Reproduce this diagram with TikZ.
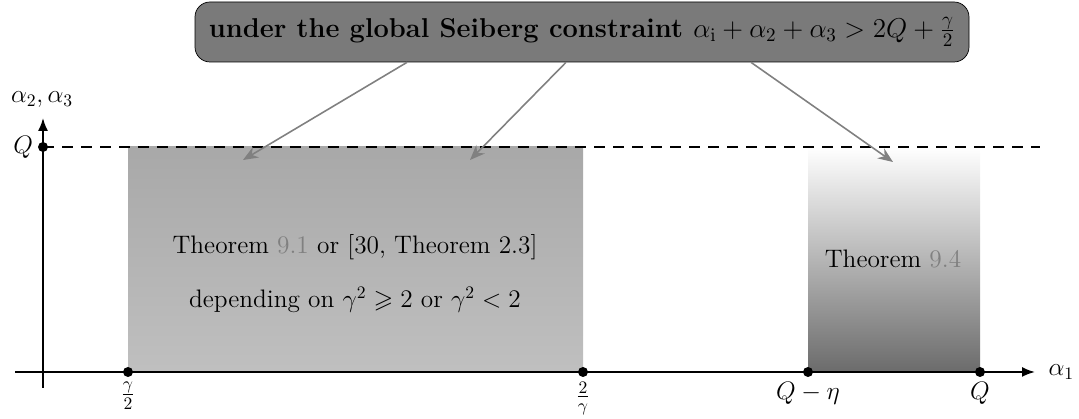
\RequirePackage{fix-cm}
\documentclass[tikz,border=0pt]{standalone}
\usepackage{amssymb}
\usetikzlibrary{arrows.meta,positioning,calc}
\tikzset{
    axisline/.style={line width=1pt, -{Latex[length=2.6mm, width=2mm]}},
    axisdot/.style={circle, fill=black, inner sep=0pt, minimum size=2mm},
    ticklabel/.style={font=\Large, inner sep=1pt},
    thmtext/.style={font=\Large, align=center},
    headbox/.style={draw, rounded corners=3mm, fill=black!52,
        font=\fontsize{15.5}{18}\selectfont\bfseries,
        minimum width=15.48cm, minimum height=1.2cm},
    headarrow/.style={-{Stealth[length=3mm, width=2.4mm]}, draw=black!50, line width=0.9pt}
}
\newcommand{\reflink}[1]{\textcolor{black!50}{#1}}

\begin{document}
\begin{tikzpicture}
\useasboundingbox (0,0) rectangle (21.58,8.38);
% regions
\shade[top color=black!34, bottom color=black!25] (2.56,0.94) rectangle (11.66,5.44);
\shade[top color=white, bottom color=black!58] (16.16,0.94) rectangle (19.6,5.44);
% axes
\draw[line width=1pt, dash pattern=on 2.2mm off 1.6mm] (0.86,5.44) -- (20.8,5.44);
\coordinate (xstart) at (0.30,0.94);
\coordinate (xend) at (20.7,0.94);
\coordinate (ystart) at (0.86,0.62);
\coordinate (yend) at (0.86,6.02);
\draw[axisline] (xstart) -- (xend);
\draw[axisline] (ystart) -- (yend);
\node[right=0.15cm of xend, font=\Large] (alone) {$\alpha_1$};
\node[font=\Large] (atwo) at (0.84,6.38) {$\alpha_2,\alpha_3$};
% points on the axes
\node[axisdot] (qtop) at (0.86,5.44) {};
\node[ticklabel, left=0.05cm of qtop] (qtoplab) {$Q$};
\node[axisdot] (gamhalf) at (2.56,0.94) {};
\node[ticklabel, below=0.05cm of gamhalf] {$\frac{\gamma}{2}$};
\node[axisdot] (twogam) at (11.66,0.94) {};
\node[ticklabel, below=0.05cm of twogam] {$\frac{2}{\gamma}$};
\node[axisdot] (qeta) at (16.16,0.94) {};
\node[ticklabel, below=0.05cm of qeta] {$Q-\eta$};
\node[axisdot] (qright) at (19.6,0.94) {};
\node[ticklabel, below=0.05cm of qright] {$Q$};
% texts in the regions
\node[thmtext] (thmA) at (7.10,3.44) {Theorem \reflink{9.1} or [30, Theorem 2.3]};
\node[thmtext] (thmB) at (7.10,2.38) {depending on $\gamma^2 \geqslant 2$ or $\gamma^2 < 2$};
\node[thmtext] (thmC) at (17.86,3.2) {Theorem \reflink{9.4}};
% constraint box
\node[headbox] (head) at (11.64,7.74) {under the global Seiberg constraint $\alpha_{\rm i}+\alpha_2+\alpha_3>2Q+\frac{\gamma}{2}$};
\coordinate (tipA) at (4.86,5.18);
\coordinate (tipB) at (9.4,5.18);
\coordinate (tipC) at (17.86,5.14);
\draw[headarrow] (head.south -| 8.14,0) -- (tipA);
\draw[headarrow] (head.south -| 11.32,0) -- (tipB);
\draw[headarrow] (head.south -| 15.02,0) -- (tipC);
\end{tikzpicture}
\end{document}
